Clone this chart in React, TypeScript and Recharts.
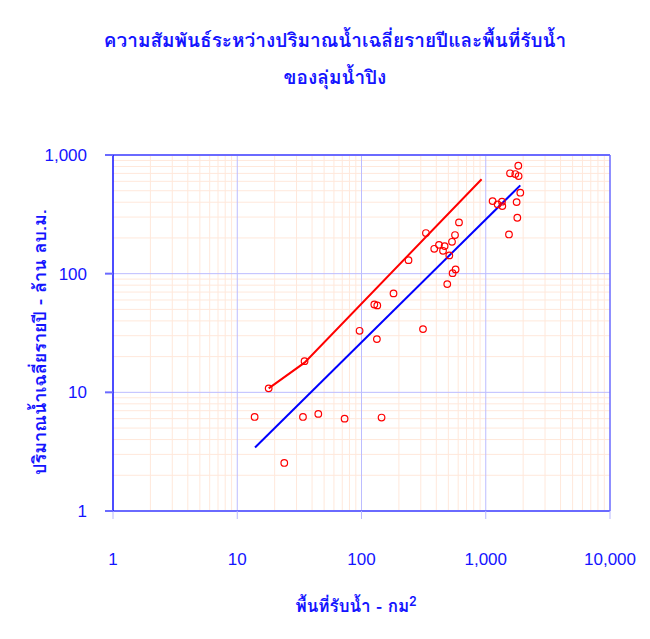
import { ScatterChart, Scatter, XAxis, YAxis, ReferenceLine } from 'recharts'

// catchment area (km2) and mean annual runoff (million m3) per station
const areaKm2 = [
  13.8, 33.8, 44.9, 73.1, 145, 23.9, 17.9, 34.8, 96.5, 133, 126.8, 134, 181, 312.6, 490, 239, 330, 541, 572,
  509, 385, 420.5, 466.6, 453, 535, 565.7, 609, 1828, 1568, 1729, 1838, 1897, 1135, 1246, 1351, 1359, 1772,
  1795, 1538,
]
const runoffMcm = [
  6.2, 6.2, 6.58, 6.0, 6.13, 2.54, 10.8, 18.3, 33.0, 28.1, 55.0, 54.0, 68.2, 34.1, 81.7, 130, 220, 101, 108.6,
  142.6, 162, 175, 170.8, 155.9, 185.6, 211.5, 270.5, 812, 701, 691, 665, 481, 409, 384, 404, 371, 401, 296, 214,
]

// upper envelope (red) and fitted line (blue)
const upperArea = [17.9, 34.8, 926]
const upperRunoff = [10.8, 17.8, 624]
const fitArea = [13.9, 1897]
const fitRunoff = [3.43, 555]

const xTicks = [1, 10, 100, 1000, 10000]
const yTicks = [1, 10, 100, 1000]
const minorSteps = [2, 3, 4, 5, 6, 7, 8, 9]

const BLUE = '#1414ff'
const FONT = "'Liberation Sans', Arial, sans-serif"
const THAI =
  "Tahoma, Loma, Garuda, 'Noto Sans Thai Looped', 'Noto Sans Thai', 'Noto Sans', 'DejaVu Sans', sans-serif"

const points = areaKm2.map((x, i) => ({ x, y: runoffMcm[i] }))
const upperLine = upperArea.map((x, i) => ({ x, y: upperRunoff[i] }))
const fitLine = fitArea.map((x, i) => ({ x, y: fitRunoff[i] }))

const minorX = xTicks.slice(0, -1).flatMap(d => minorSteps.map(s => d * s))
const minorY = yTicks.slice(0, -1).flatMap(d => minorSteps.map(s => d * s))

const fmt = (v: number) => v.toLocaleString('en-US')

function Ring(props: any) {
  const { cx, cy } = props
  if (cx == null || cy == null) return <g />
  return <circle cx={cx} cy={cy} r={3.3} fill="none" stroke="#ff0000" strokeWidth={1.2} />
}

const NoDot = () => <g />

const labelStyle = {
  position: 'absolute' as const,
  whiteSpace: 'nowrap' as const,
  color: BLUE,
  fontWeight: 'bold' as const,
}

export default function App() {
  return (
    <div style={{ position: 'relative', width: 634, height: 623, fontFamily: THAI }}>
      <div style={{ ...labelStyle, left: 327, top: 32, transform: 'translate(-50%, -50%)', fontSize: 19 }}>
        ความสัมพันธ์ระหว่างปริมาณน้ำเฉลี่ยรายปีและพื้นที่รับน้ำ
      </div>
      <div style={{ ...labelStyle, left: 327, top: 69, transform: 'translate(-50%, -50%)', fontSize: 19 }}>
        ของลุ่มน้ำปิง
      </div>
      <div
        style={{
          ...labelStyle,
          left: 31,
          top: 334,
          transform: 'translate(-50%, -50%) rotate(-90deg)',
          fontSize: 18,
        }}
      >
        ปริมาณน้ำเฉลี่ยรายปี - ล้าน ลบ.ม.
      </div>
      <div style={{ ...labelStyle, left: 348, top: 597, transform: 'translate(-50%, -50%)', fontSize: 17 }}>
        พื้นที่รับน้ำ - กม<sup style={{ fontSize: 13 }}>2</sup>
      </div>

      <ScatterChart width={634} height={623} margin={{ top: 147, right: 32, bottom: 60, left: 5 }}>
        <XAxis
          type="number"
          dataKey="x"
          scale="log"
          domain={[1, 10000]}
          ticks={xTicks}
          allowDataOverflow
          height={60}
          tickSize={8}
          tickMargin={34}
          tickFormatter={fmt}
          tick={{ fill: BLUE, fontSize: 17, fontFamily: FONT }}
          tickLine={{ stroke: '#b8b8ff' }}
          axisLine={{ stroke: '#6a6aff', strokeWidth: 2 }}
        />
        <YAxis
          type="number"
          dataKey="y"
          scale="log"
          domain={[1, 1000]}
          ticks={yTicks}
          allowDataOverflow
          width={100}
          tickSize={8}
          tickMargin={18}
          tickFormatter={fmt}
          tick={{ fill: BLUE, fontSize: 17, fontFamily: FONT }}
          tickLine={{ stroke: '#6a6aff', strokeWidth: 2 }}
          axisLine={{ stroke: '#1010ff', strokeWidth: 1.5 }}
        />
        {minorX.map(v => (
          <ReferenceLine key={'mx' + v} x={v} stroke="#ffe8db" strokeWidth={1} />
        ))}
        {minorY.map(v => (
          <ReferenceLine key={'my' + v} y={v} stroke="#ffe8db" strokeWidth={1} />
        ))}
        {[10, 100, 1000].map(v => (
          <ReferenceLine key={'Mx' + v} x={v} stroke="#bcbcff" strokeWidth={1} />
        ))}
        {[10, 100].map(v => (
          <ReferenceLine key={'My' + v} y={v} stroke="#bcbcff" strokeWidth={1} />
        ))}
        <ReferenceLine y={1000} stroke="#6a6aff" strokeWidth={2} />
        <ReferenceLine x={10000} stroke="#6a6aff" strokeWidth={1.5} />
        <Scatter
          data={upperLine}
          line={{ stroke: '#ff0000', strokeWidth: 2 }}
          shape={NoDot}
          isAnimationActive={false}
        />
        <Scatter
          data={fitLine}
          line={{ stroke: '#0000ff', strokeWidth: 2 }}
          shape={NoDot}
          isAnimationActive={false}
        />
        <Scatter data={points} shape={Ring} isAnimationActive={false} />
      </ScatterChart>
    </div>
  )
}
